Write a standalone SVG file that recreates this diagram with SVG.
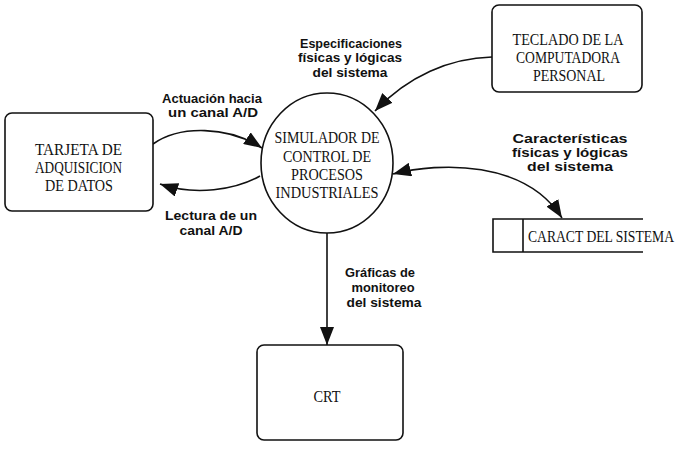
<svg xmlns="http://www.w3.org/2000/svg" width="687" height="450" viewBox="0 0 687 450">
<style>
.box{fill:#fff;stroke:#111;stroke-width:1.6}
.ln{fill:none;stroke:#111;stroke-width:1.6}
.nt{font-family:"Liberation Serif",serif;font-size:17px;fill:#111;text-anchor:middle}
.lb{font-family:"Liberation Sans",Arial,sans-serif;font-size:13.5px;font-weight:bold;fill:#111;text-anchor:middle}
</style>
<defs>
<marker id="ah" viewBox="0 0 18 14" refX="18" refY="7" markerWidth="18" markerHeight="14" orient="auto-start-reverse" markerUnits="userSpaceOnUse">
<path d="M0,0 L18,7 L0,14 z" fill="#111"/>
</marker>
</defs>
<rect width="687" height="450" fill="#fff"/>
<g id="connectors">
<path class="ln" d="M153,144 C180,125 228,126 262,148" marker-end="url(#ah)"/>
<path class="ln" d="M260,176 C235,190 195,196 160,184" marker-end="url(#ah)"/>
<path class="ln" d="M492,57 C450,58 408,76 375,111" marker-end="url(#ah)"/>
<path class="ln" d="M393,174 C440,162 525,160 562,218" marker-start="url(#ah)" marker-end="url(#ah)"/>
<path class="ln" d="M327,232 L327,345" marker-end="url(#ah)"/>
<text class="lb" x="212" y="103" textLength="100" lengthAdjust="spacingAndGlyphs">Actuación hacia</text>
<text class="lb" x="213" y="117" textLength="90" lengthAdjust="spacingAndGlyphs">un canal A/D</text>
<text class="lb" x="211" y="220" textLength="92" lengthAdjust="spacingAndGlyphs">Lectura de un</text>
<text class="lb" x="211" y="235" textLength="63" lengthAdjust="spacingAndGlyphs">canal A/D</text>
<text class="lb" x="351" y="48" textLength="102" lengthAdjust="spacingAndGlyphs">Especificaciones</text>
<text class="lb" x="350" y="62" textLength="104" lengthAdjust="spacingAndGlyphs">físicas y lógicas</text>
<text class="lb" x="350" y="77" textLength="75" lengthAdjust="spacingAndGlyphs">del sistema</text>
<text class="lb" x="570" y="143" textLength="115" lengthAdjust="spacingAndGlyphs">Características</text>
<text class="lb" x="570" y="157" textLength="116" lengthAdjust="spacingAndGlyphs">físicas y lógicas</text>
<text class="lb" x="570" y="171" textLength="86" lengthAdjust="spacingAndGlyphs">del sistema</text>
<text class="lb" x="380" y="277" textLength="70" lengthAdjust="spacingAndGlyphs">Gráficas de</text>
<text class="lb" x="383" y="292" textLength="63" lengthAdjust="spacingAndGlyphs">monitoreo</text>
<text class="lb" x="384" y="307" textLength="75" lengthAdjust="spacingAndGlyphs">del sistema</text>
</g>
<g id="tarjeta">
<rect class="box" x="5" y="113" width="148" height="98" rx="7"/>
<text class="nt" x="78.5" y="155" textLength="87" lengthAdjust="spacingAndGlyphs">TARJETA DE</text>
<text class="nt" x="78.5" y="173" textLength="87" lengthAdjust="spacingAndGlyphs">ADQUISICION</text>
<text class="nt" x="79" y="191" textLength="68" lengthAdjust="spacingAndGlyphs">DE DATOS</text>
</g>
<g id="simulador">
<ellipse class="box" cx="327" cy="163" rx="66" ry="70"/>
<text class="nt" x="327" y="143" textLength="105" lengthAdjust="spacingAndGlyphs">SIMULADOR DE</text>
<text class="nt" x="327" y="162" textLength="88" lengthAdjust="spacingAndGlyphs">CONTROL DE</text>
<text class="nt" x="327" y="180" textLength="72" lengthAdjust="spacingAndGlyphs">PROCESOS</text>
<text class="nt" x="327" y="198" textLength="103" lengthAdjust="spacingAndGlyphs">INDUSTRIALES</text>
</g>
<g id="teclado">
<rect class="box" x="492" y="5" width="150" height="87" rx="7"/>
<text class="nt" x="568" y="45" textLength="111" lengthAdjust="spacingAndGlyphs">TECLADO DE LA</text>
<text class="nt" x="568" y="63" textLength="104" lengthAdjust="spacingAndGlyphs">COMPUTADORA</text>
<text class="nt" x="569" y="81" textLength="72" lengthAdjust="spacingAndGlyphs">PERSONAL</text>
</g>
<g id="caract">
<path class="ln" d="M643,219 L493,219 L493,252 L643,252 M523,219 L523,252"/>
<text class="nt" x="601" y="242" textLength="146" lengthAdjust="spacingAndGlyphs">CARACT DEL SISTEMA</text>
</g>
<g id="crt">
<rect class="box" x="257" y="345" width="146" height="95" rx="7"/>
<text class="nt" x="327" y="402" textLength="27" lengthAdjust="spacingAndGlyphs">CRT</text>
</g>
</svg>
